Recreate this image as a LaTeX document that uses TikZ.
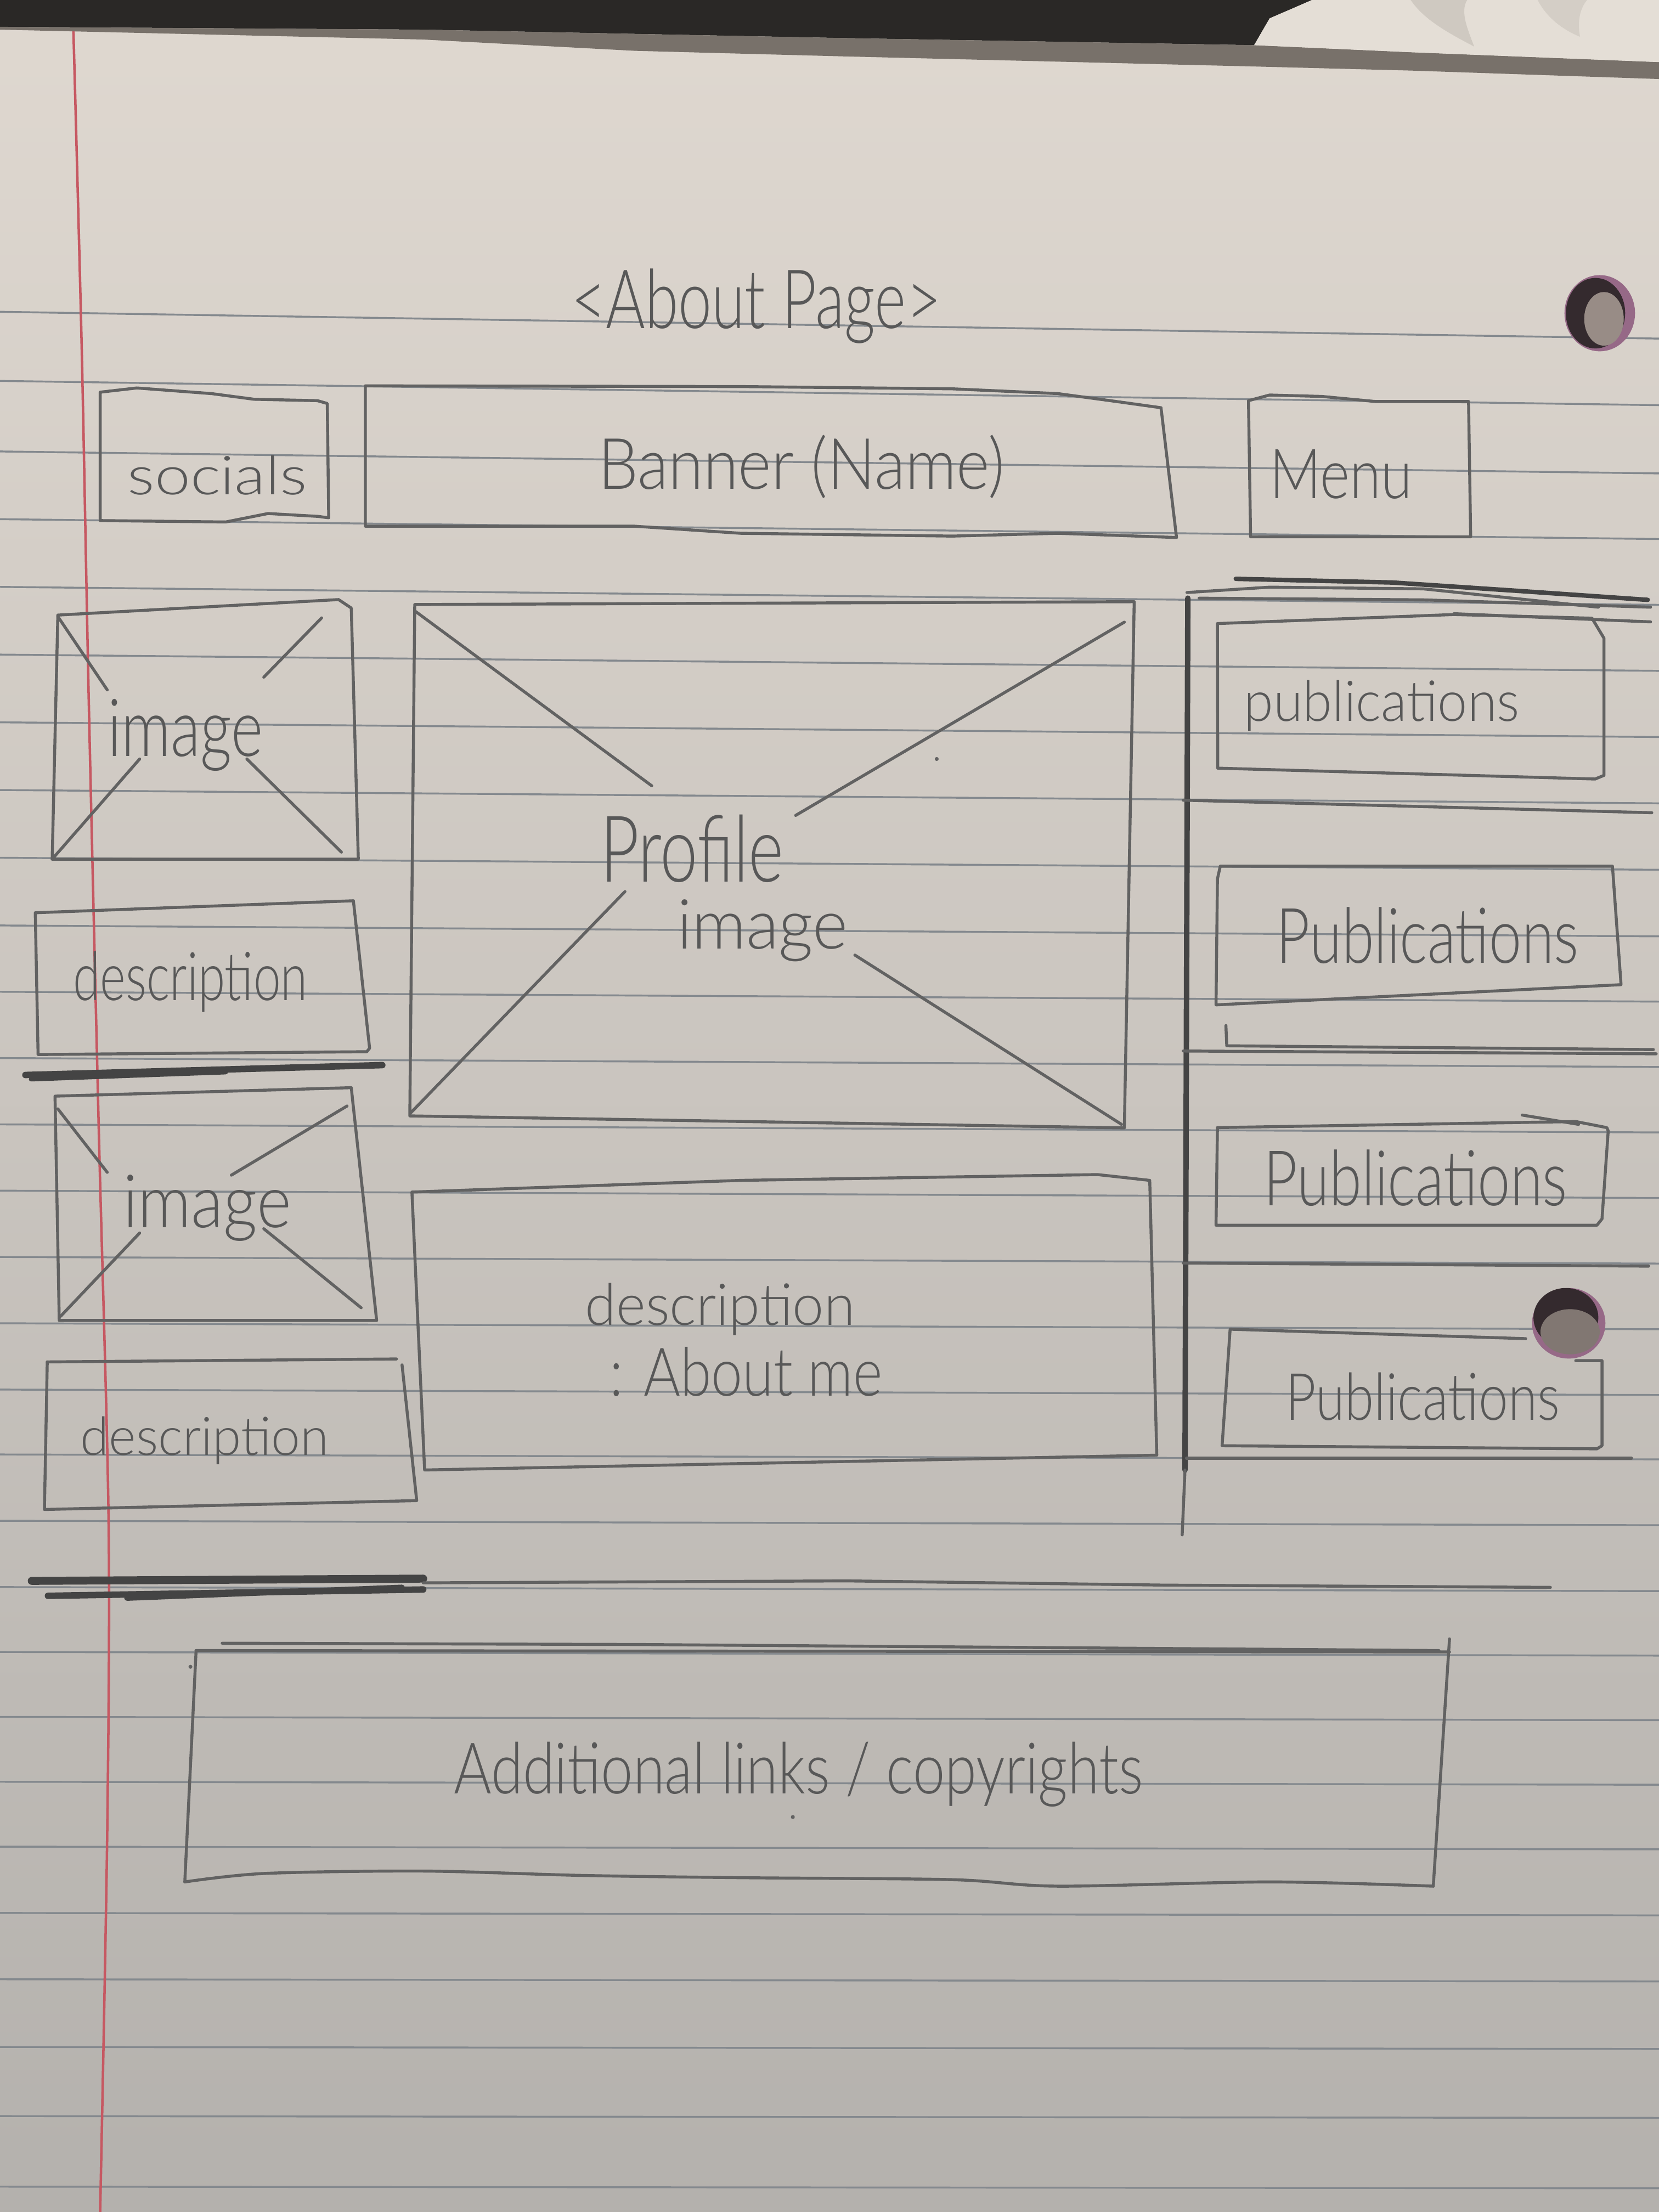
\documentclass[tikz,border=0pt]{standalone}
\usepackage{fontspec}
\usepackage{graphicx}
\newfontfamily\handfont{Lato Light}

\definecolor{paperTop}{RGB}{223,216,208}
\definecolor{paperBot}{RGB}{180,177,173}
\definecolor{rule}{RGB}{132,137,142}
\definecolor{margin}{RGB}{198,88,98}
\definecolor{pencil}{RGB}{98,98,98}
\definecolor{pencilDark}{RGB}{68,68,68}
\definecolor{ink}{RGB}{88,88,88}
\definecolor{desk}{RGB}{42,40,38}
\definecolor{edge}{RGB}{120,113,106}
\definecolor{tissue}{RGB}{228,222,214}
\definecolor{tissueFold}{RGB}{190,184,176}
\definecolor{holeDark}{RGB}{52,42,46}
\definecolor{holeRim}{RGB}{150,105,135}
\definecolor{holeIn}{RGB}{152,140,134}

% handwritten label, squeezed to the size of the pencil writing
\newcommand\hw[3]{\resizebox*{#1}{#2}{\handfont #3}}

\tikzset{
  pencil line/.style={draw=pencil, line width=0.6pt, line cap=round, line join=round},
  heavy line/.style={draw=pencilDark, line width=1.3pt, line cap=round},
  ruled/.style={draw=rule, line width=0.38pt},
  label/.style={inner sep=0pt, outer sep=0pt, text=ink},
}

\begin{document}
\begin{tikzpicture}[x=0.01cm,y=-0.01cm]
\useasboundingbox (0,0) rectangle (1176,1568);

% ---------- sheet of ruled paper ----------
\shade[top color=paperTop, bottom color=paperBot] (0,0) rectangle (1176,1568);
\foreach \yy [count=\k from 0] in {221,270,320,368,416,464,512,560,608,656,703,750,797,844,891,938,985,1031,1078,1125,1171,1217,1263,1309,1356,1403,1451,1500,1550} {
  \pgfmathsetmacro\dd{19*exp(-\k/10)}
  \draw[ruled] (0,\yy) -- (1176,\yy+\dd);
}
\draw[margin, line width=0.5pt] plot[smooth] coordinates {(52,20) (58,250) (63,500) (70,800) (77,1080) (76,1300) (71,1568)};

% desk, paper edge and tissue at the top
\fill[desk] (0,0) -- (930,0) -- (900,13) -- (889,32) -- (600,27) -- (300,21) -- (0,19) -- cycle;
\fill[edge] (0,19) -- (300,21) -- (600,27) -- (889,32) -- (1000,37) -- (1176,44) -- (1176,56) -- (1000,50) -- (885,47) -- (600,40) -- (450,36) -- (300,28) -- (0,21) -- cycle;
\fill[tissue] (930,0) -- (1176,0) -- (1176,44) -- (1000,37) -- (889,32) -- (900,13) -- cycle;
\fill[tissueFold, opacity=0.55] (1000,0) .. controls (1010,15) and (1030,25) .. (1045,33) .. controls (1040,20) and (1035,8) .. (1040,0) -- cycle;
\fill[tissueFold, opacity=0.4] (1090,0) .. controls (1095,10) and (1105,20) .. (1120,26) .. controls (1118,15) and (1120,6) .. (1125,0) -- cycle;

% binder holes
\fill[holeRim] (1134,222) ellipse [x radius=25, y radius=27];
\fill[holeDark] (1131,222) ellipse [x radius=21, y radius=25];
\fill[holeIn] (1137,226) ellipse [x radius=14, y radius=19];
\fill[holeRim] (1112,938) ellipse [x radius=26, y radius=25];
\fill[holeDark] (1110,934) ellipse [x radius=23, y radius=21];
\fill[holeIn!85!black] (1113,944) ellipse [x radius=21, y radius=16];

% ---------- header row ----------
\node[label] (title) at (536,217) {\hw{2.62cm}{0.53cm}{<About Page>}};

\draw[pencil line] (71,278) -- (97,275) -- (150,279) -- (180,283) -- (225,284) -- (232,286) -- (233,367) -- (225,366) -- (190,364) -- (160,370) -- (71,369) -- cycle;
\node[label] (socials) at (154,337) {\hw{1.27cm}{0.28cm}{socials}};

\draw[pencil line] (259,273.5) -- (525,274) -- (675,275.6) -- (750,279) -- (787,284) -- (823,289) -- (834,381) -- (750,378) -- (675,380) -- (525,378) -- (450,373) -- (259,373) -- cycle;
\node[label] (banner) at (568,331) {\hw{2.88cm}{0.45cm}{Banner (Name)}};

\draw[pencil line] (885,284) -- (900,280) -- (937,281) -- (975,284.6) -- (1041,284.6) -- (1042.5,380.5) -- (886.5,380.5) -- cycle;
\node[label] (menu) at (950.5,336) {\hw{1.01cm}{0.35cm}{Menu}};

% ---------- left column ----------
\draw[pencil line] (41,436) -- (240,425) -- (249,431) -- (254,609) -- (37,609) -- cycle;
\draw[pencil line] (41,437) -- (76,489);
\draw[pencil line] (175,538) -- (242,604);
\draw[pencil line] (228,438) -- (187,480);
\draw[pencil line] (99,538) -- (37,609);
\node[label] (img1) at (131.5,521) {\hw{1.10cm}{0.51cm}{image}};

\draw[pencil line] (25,647) -- (250.5,638.5) -- (262,743) -- (260,745.5) -- (27,747.5) -- cycle;
\node[label] (desc1) at (135,696) {\hw{1.66cm}{0.43cm}{description}};

\draw[heavy line] (18,762) -- (271,755);
\draw[heavy line, line width=0.9pt] (22,765) -- (160,760);

\draw[pencil line] (39,777) -- (249,771) -- (267,936) -- (42,936) -- cycle;
\draw[pencil line] (41,786) -- (76,831);
\draw[pencil line] (187,871) -- (256,927);
\draw[pencil line] (246,784) -- (164,833);
\draw[pencil line] (99,874) -- (43,933);
\node[label] (img2) at (147,856.5) {\hw{1.19cm}{0.47cm}{image}};

\draw[pencil line] (33.5,965.4) -- (281,963.3);
\draw[pencil line] (285,967.5) -- (295.4,1063.7) -- (31.5,1070) -- (33.5,965.4);
\node[label] (desc2) at (145,1021) {\hw{1.76cm}{0.34cm}{description}};

% ---------- centre column ----------
\draw[pencil line] (294,428.5) -- (804,426.5) -- (797,799.5) -- (290.5,791) -- cycle;
\draw[pencil line] (294,433) -- (462,557);
\draw[pencil line] (606,677) -- (795,797);
\draw[pencil line] (797,441) -- (564,578);
\draw[pencil line] (443,632) -- (291,789);
\node[label] (profile) at (490.5,601.5) {\hw{1.30cm}{0.48cm}{Profile}};
\node[label] (profimg) at (540.5,659.5) {\hw{1.21cm}{0.44cm}{image}};
\fill[pencil] (664,538) circle (1.4);

\draw[pencil line] (292,845) -- (525.5,836.7) -- (778,832.6) -- (815,836.7) -- (820,1031.5) -- (301,1042) -- cycle;
\node[label] (about1) at (510.5,928) {\hw{1.91cm}{0.37cm}{description}};
\node[label] (about2) at (529,972.5) {\hw{1.93cm}{0.35cm}{: About me}};

% ---------- right column ----------
\draw[heavy line, line width=1.1pt] (842,424) -- (840,1042);
\draw[pencil line] (840,1042) -- (838,1088);
\draw[pencil line] (841.4,420) -- (900,416.2) -- (1009,417.4) -- (1133,430.4);
\draw[heavy line, line width=0.9pt] (876,410.3) -- (987,412.9) -- (1074,418.7) -- (1168,425.2);
\draw[pencil line] (850,424) -- (1009,425.2) -- (1170,430.4);
\draw[pencil line] (1030.6,435) -- (1170,440.8);

\draw[pencil line] (863,442) -- (1030.6,435.6) -- (1128.5,438.2) -- (1137,452.4) -- (1137,549.6) -- (1130.7,552.2) -- (863.2,544.5) -- cycle;
\node[label] (pub1) at (979.5,500) {\hw{1.95cm}{0.36cm}{publications}};
\draw[pencil line] (838.7,567.2) -- (1170.9,576.1);

\draw[pencil line] (865,614) -- (1143,614) -- (1149,696.7) -- (1149,698) -- (862,712.3) -- (863,623) -- cycle;
\node[label] (pub2) at (1012,663) {\hw{2.14cm}{0.40cm}{Publications}};
\draw[pencil line] (838.7,745) -- (1174,747);
\draw[pencil line] (869,727) -- (869.6,741.3) -- (1172,744);

\draw[pencil line] (863,799.3) -- (1117,795) -- (1139,799.3) -- (1140,801.6) -- (1135.6,864) -- (1132,868.5) -- (862,868.5) -- cycle;
\draw[pencil line] (1079,790.4) -- (1119,797);
\node[label] (pub3) at (1003.5,835) {\hw{2.15cm}{0.40cm}{Publications}};
\draw[pencil line] (838.7,895.3) -- (1168.7,897.5);

\draw[pencil line] (1081.5,948.9) -- (872,942.2) -- (866.3,1024.8) -- (1132,1027) -- (1135.6,1024.8) -- (1135.6,964.5) -- (1117,964.5);
\node[label] (pub4) at (1008.5,990) {\hw{1.94cm}{0.34cm}{Publications}};
\draw[pencil line] (841,1033.7) -- (1156.5,1033.7);

% ---------- footer ----------
\draw[heavy line, line width=1.6pt] (22.5,1120.6) -- (300,1119);
\draw[heavy line, line width=1.3pt] (34,1131.2) -- (300,1126.7);
\draw[heavy line, line width=1.1pt] (90,1132.8) -- (285,1125.2);
\draw[pencil line] (300,1122) -- (600,1120.6) -- (825,1123.6) -- (1099,1125.2);

\draw[pencil line] (157.5,1164.8) -- (450,1165.7) -- (1020,1170);
\draw[pencil line] (139,1170) -- (1027.5,1171);
\draw[pencil line] (1027.5,1161.7) -- (1016,1337);
\draw[pencil line] plot[smooth] coordinates {(131,1334) (187.5,1328) (300,1326.3) (412.5,1329.4) (525,1331) (675,1332.4) (750,1337) (900,1334) (1016,1337)};
\draw[pencil line] (131,1334) -- (139,1170);
\node[label] (footer) at (566,1257.7) {\hw{4.88cm}{0.46cm}{Additional links / copyrights}};
\fill[pencil] (135,1181.5) circle (1.4);
\fill[pencil] (562,1288) circle (1.4);

\end{tikzpicture}
\end{document}
